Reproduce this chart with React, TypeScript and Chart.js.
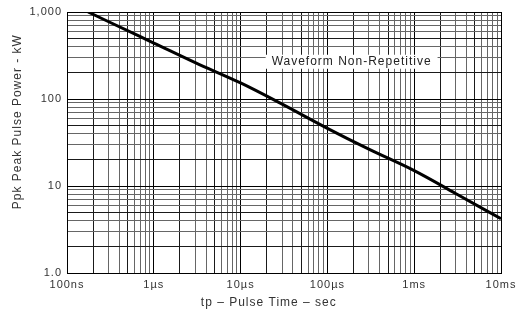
import React, { useEffect, useRef } from "react";
import { Chart, registerables } from "chart.js";

Chart.register(...registerables);

// Pulse time in µs, peak pulse power in kW
const pulseTimeUs = [0.175, 0.7, 1, 3, 10, 29, 100, 300, 1000, 3000, 10000];
const peakPowerKw = [1000, 520, 440, 262, 153, 89, 46, 26.5, 15, 8.2, 4.2];

const xTickValues = [0.1, 1, 10, 100, 1000, 10000];
const xTickLabels = ["100ns", "1µs", "10µs", "100µs", "1ms", "10ms"];
const yTickValues = [1, 10, 100, 1000];
const yTickLabels = ["1.0", "10", "100", "1,000"];

const xTitle = "tp – Pulse Time – sec";
const yTitle = "Ppk Peak Pulse Power - kW";

const noteText = "Waveform Non-Repetitive";
const noteX = 190; // µs
const noteY = 268; // kW

const FONT = "'Liberation Sans', Arial, sans-serif";

function logTicks(min: number, max: number) {
  const out: { value: number }[] = [];
  for (let e = Math.floor(Math.log10(min)); e <= Math.ceil(Math.log10(max)); e++) {
    for (let s = 1; s <= 9; s++) {
      const v = parseFloat((s * Math.pow(10, e)).toPrecision(6));
      if (v >= min * 0.9999 && v <= max * 1.0001) out.push({ value: v });
    }
  }
  return out;
}

function sig(v: number) {
  return Math.round(v / Math.pow(10, Math.floor(Math.log10(v) + 1e-9)));
}

function gridColor(ctx: any) {
  const v = ctx.tick ? ctx.tick.value : 1;
  const s = sig(v);
  if (s === 1) return "#000";
  if (s === 2 || s === 5) return "#1a1a1a";
  return "#666";
}

function label(values: number[], labels: string[]) {
  return (value: any) => {
    const i = values.findIndex((v) => Math.abs(v - Number(value)) / v < 1e-6);
    return i >= 0 ? labels[i] : "";
  };
}

const spacingPlugin = {
  id: "spacing",
  beforeDraw(chart: any) {
    (chart.ctx as any).letterSpacing = "1px";
  },
};

const textPlugin = {
  id: "texts",
  afterDatasetsDraw(chart: any) {
    const { ctx, scales, chartArea } = chart;
    ctx.save();
    ctx.font = `12px ${FONT}`;
    (ctx as any).letterSpacing = "1px";
    ctx.textAlign = "center";
    ctx.textBaseline = "middle";
    // note box
    const x = scales.x.getPixelForValue(noteX);
    const y = scales.y.getPixelForValue(noteY);
    const w = ctx.measureText(noteText).width;
    ctx.fillStyle = "#fff";
    ctx.fillRect(x - w / 2 - 6, y - 7, w + 12, 14);
    ctx.fillStyle = "#222";
    ctx.fillText(noteText, x, y);
    // axis titles
    ctx.fillStyle = "#333";
    ctx.fillText(xTitle, chartArea.left + (chartArea.right - chartArea.left) * 0.465, chartArea.bottom + 30);
    ctx.translate(18, chartArea.top + (chartArea.bottom - chartArea.top) * 0.42);
    ctx.rotate(-Math.PI / 2);
    ctx.fillText(yTitle, 0, 0);
    ctx.restore();
  },
};

export default function App() {
  const ref = useRef<HTMLCanvasElement>(null);
  useEffect(() => {
    document.body.style.margin = "0";
    const chart = new Chart(ref.current!, {
      type: "line",
      data: {
        datasets: [
          {
            data: pulseTimeUs.map((t, i) => ({ x: t, y: peakPowerKw[i] })),
            borderColor: "#000",
            borderWidth: 3,
            pointRadius: 0,
            cubicInterpolationMode: "monotone",
            fill: false,
          },
        ],
      },
      options: {
        animation: false,
        responsive: false,
        maintainAspectRatio: false,
        layout: { padding: { left: 0, right: 19, top: 12, bottom: 0 } },
        plugins: { legend: { display: false }, tooltip: { enabled: false } },
        scales: {
          x: {
            type: "logarithmic",
            min: 0.1,
            max: 10000,
            afterBuildTicks: (s: any) => {
              s.ticks = logTicks(0.1, 10000);
            },
            afterFit: (s: any) => {
              s.height = 43;
            },
            grid: { color: gridColor, lineWidth: 1, drawTicks: false },
            border: { display: true, color: "#000", width: 1 },
            ticks: {
              autoSkip: false,
              maxRotation: 0,
              padding: 5,
              color: "#333",
              font: { family: FONT, size: 11 },
              callback: label(xTickValues, xTickLabels),
            },
          },
          y: {
            type: "logarithmic",
            min: 1,
            max: 1000,
            afterBuildTicks: (s: any) => {
              s.ticks = logTicks(1, 1000);
            },
            afterFit: (s: any) => {
              s.width = 67;
            },
            grid: { color: gridColor, lineWidth: 1, drawTicks: false },
            border: { display: true, color: "#000", width: 1 },
            ticks: {
              autoSkip: false,
              padding: 5,
              color: "#333",
              font: { family: FONT, size: 11 },
              callback: label(yTickValues, yTickLabels),
            },
          },
        },
      },
      plugins: [spacingPlugin, textPlugin],
    });
    return () => chart.destroy();
  }, []);
  return (
    <div style={{ width: 520, height: 316, position: "relative" }}>
      <canvas ref={ref} width={520} height={316} style={{ display: "block" }} />
    </div>
  );
}
